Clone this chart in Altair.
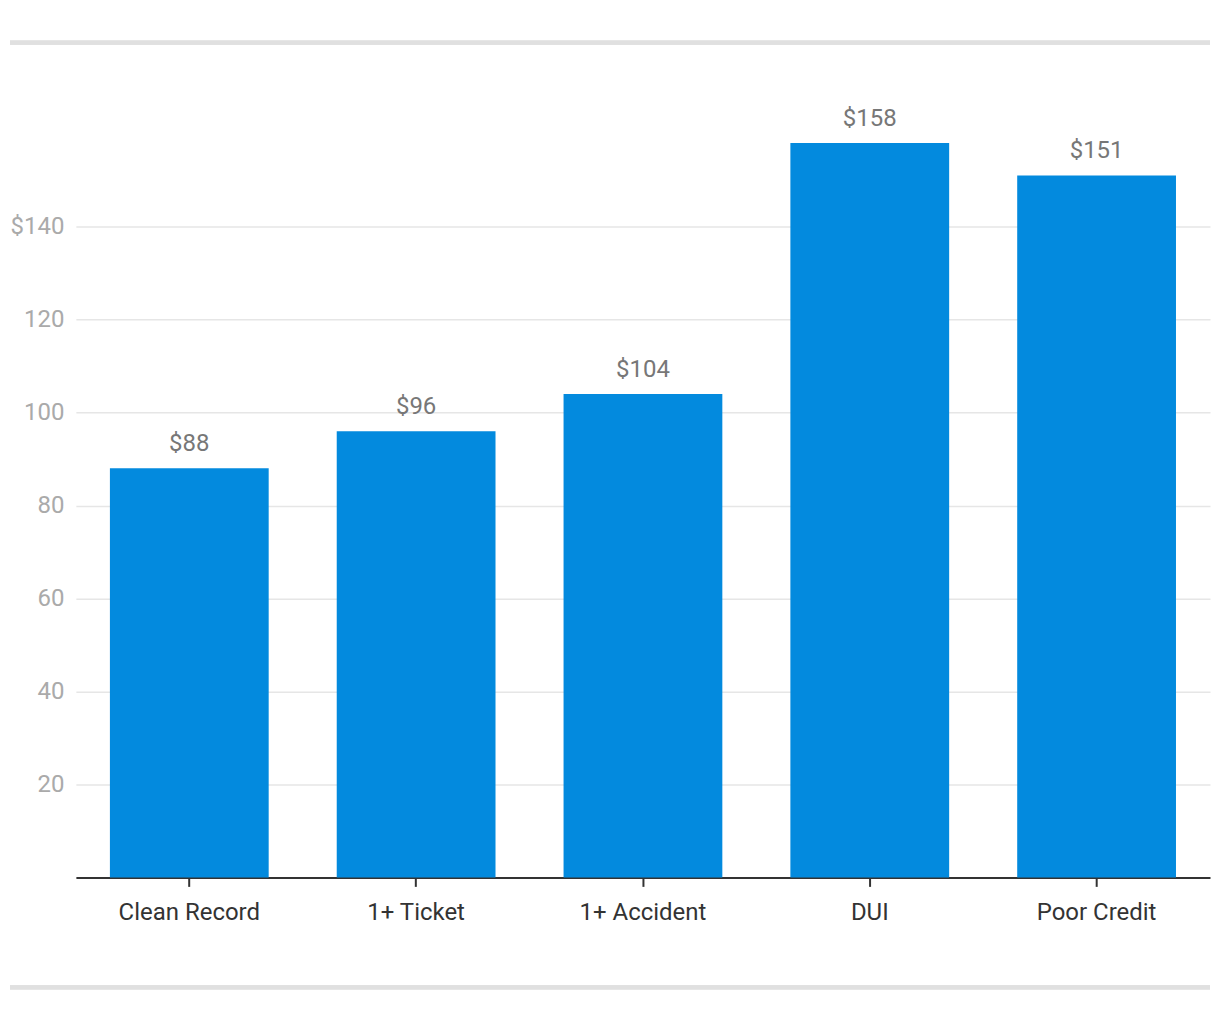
import altair as alt
import pandas as pd

categories = ["Clean Record", "1+ Ticket", "1+ Accident", "DUI", "Poor Credit"]
values = [88, 96, 104, 158, 151]
labels = ["$88", "$96", "$104", "$158", "$151"]
y_ticks = [20, 40, 60, 80, 100, 120, 140]

df = pd.DataFrame({"category": categories, "value": values, "label": labels})

FONT = "Roboto"
W, H = 1136, 745

x_enc = alt.X("category:N", sort=categories, title=None,
              scale=alt.Scale(paddingInner=0.3, paddingOuter=0.15),
              axis=alt.Axis(labelAngle=0, labelFont=FONT, labelFontSize=24,
                            labelColor="#333333", labelPadding=14,
                            domainColor="#333333", domainWidth=2,
                            tickColor="#333333", tickWidth=2, tickSize=9,
                            grid=False))
y_enc = alt.Y("value:Q", title=None,
              scale=alt.Scale(domain=[0, 160], nice=False),
              axis=alt.Axis(values=y_ticks, labelFont=FONT, labelFontSize=24,
                            labelColor="#aaaaaa", labelPadding=12,
                            labelExpr="datum.value == 140 ? '$140' : datum.label",
                            domain=False, ticks=False, grid=True,
                            gridColor="#e6e6e6", gridWidth=1.5))

base = alt.Chart(df)

bars = base.mark_bar(color="#038ade").encode(x=x_enc, y=y_enc)

text = base.mark_text(font=FONT, fontSize=24, color="#777777",
                      baseline="bottom", dy=-12).encode(
    x=alt.X("category:N", sort=categories),
    y=alt.Y("value:Q"),
    text="label:N")

sep_top = base.mark_rule(color="#e0e0e0", strokeWidth=4).encode(
    x=alt.value(-66), x2=alt.value(W), y=alt.value(-91))
sep_bot = base.mark_rule(color="#e0e0e0", strokeWidth=4).encode(
    x=alt.value(-66), x2=alt.value(W), y=alt.value(855))

chart = alt.layer(bars, text, sep_top, sep_bot).properties(
    width=W, height=H,
    background="white",
    autosize=alt.AutoSizeParams(type="none"),
    padding={"left": 68, "top": 125, "right": 2, "bottom": 130},
).configure_view(strokeWidth=0, stroke=None)

chart.save("out.html", embed_options={"renderer": "svg", "actions": False})
